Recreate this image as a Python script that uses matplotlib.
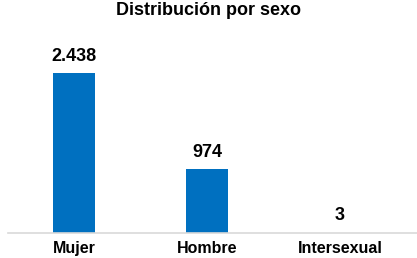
import matplotlib.pyplot as plt

categorias = ["Mujer", "Hombre", "Intersexual"]
valores = [2438, 974, 3]
etiquetas = ["2.438", "974", "3"]

plt.rcParams['font.family'] = ['Liberation Sans', 'DejaVu Sans']

fig = plt.figure(figsize=(4.17, 2.58), dpi=100)
ax = fig.add_axes([7.5 / 417, 25 / 258, 409.5 / 417, 197 / 258])

x = range(len(categorias))
bars = ax.bar(x, valores, width=0.316, color='#0070C0')

for b, txt in zip(bars, etiquetas):
    ax.annotate(txt, (b.get_x() + b.get_width() / 2, b.get_height()),
                xytext=(0, 6), textcoords='offset points',
                ha='center', va='bottom', fontsize=13, fontweight='bold')

ax.set_xlim(-0.5, 2.58)
ax.set_ylim(0, 3000)
ax.set_xticks(list(x))
ax.set_xticklabels(categorias, fontsize=11.5, fontweight='bold')
ax.tick_params(axis='x', length=0, pad=6)
ax.set_yticks([])
for s in ['top', 'right', 'left']:
    ax.spines[s].set_visible(False)
ax.spines['bottom'].set_color('#d9d9d9')
ax.spines['bottom'].set_linewidth(1.2)

fig.text(208 / 417, 1 - 2 / 258, "Distribución por sexo", ha='center',
         va='top', fontsize=13, fontweight='bold')

fig.savefig('out.png', dpi=100)
